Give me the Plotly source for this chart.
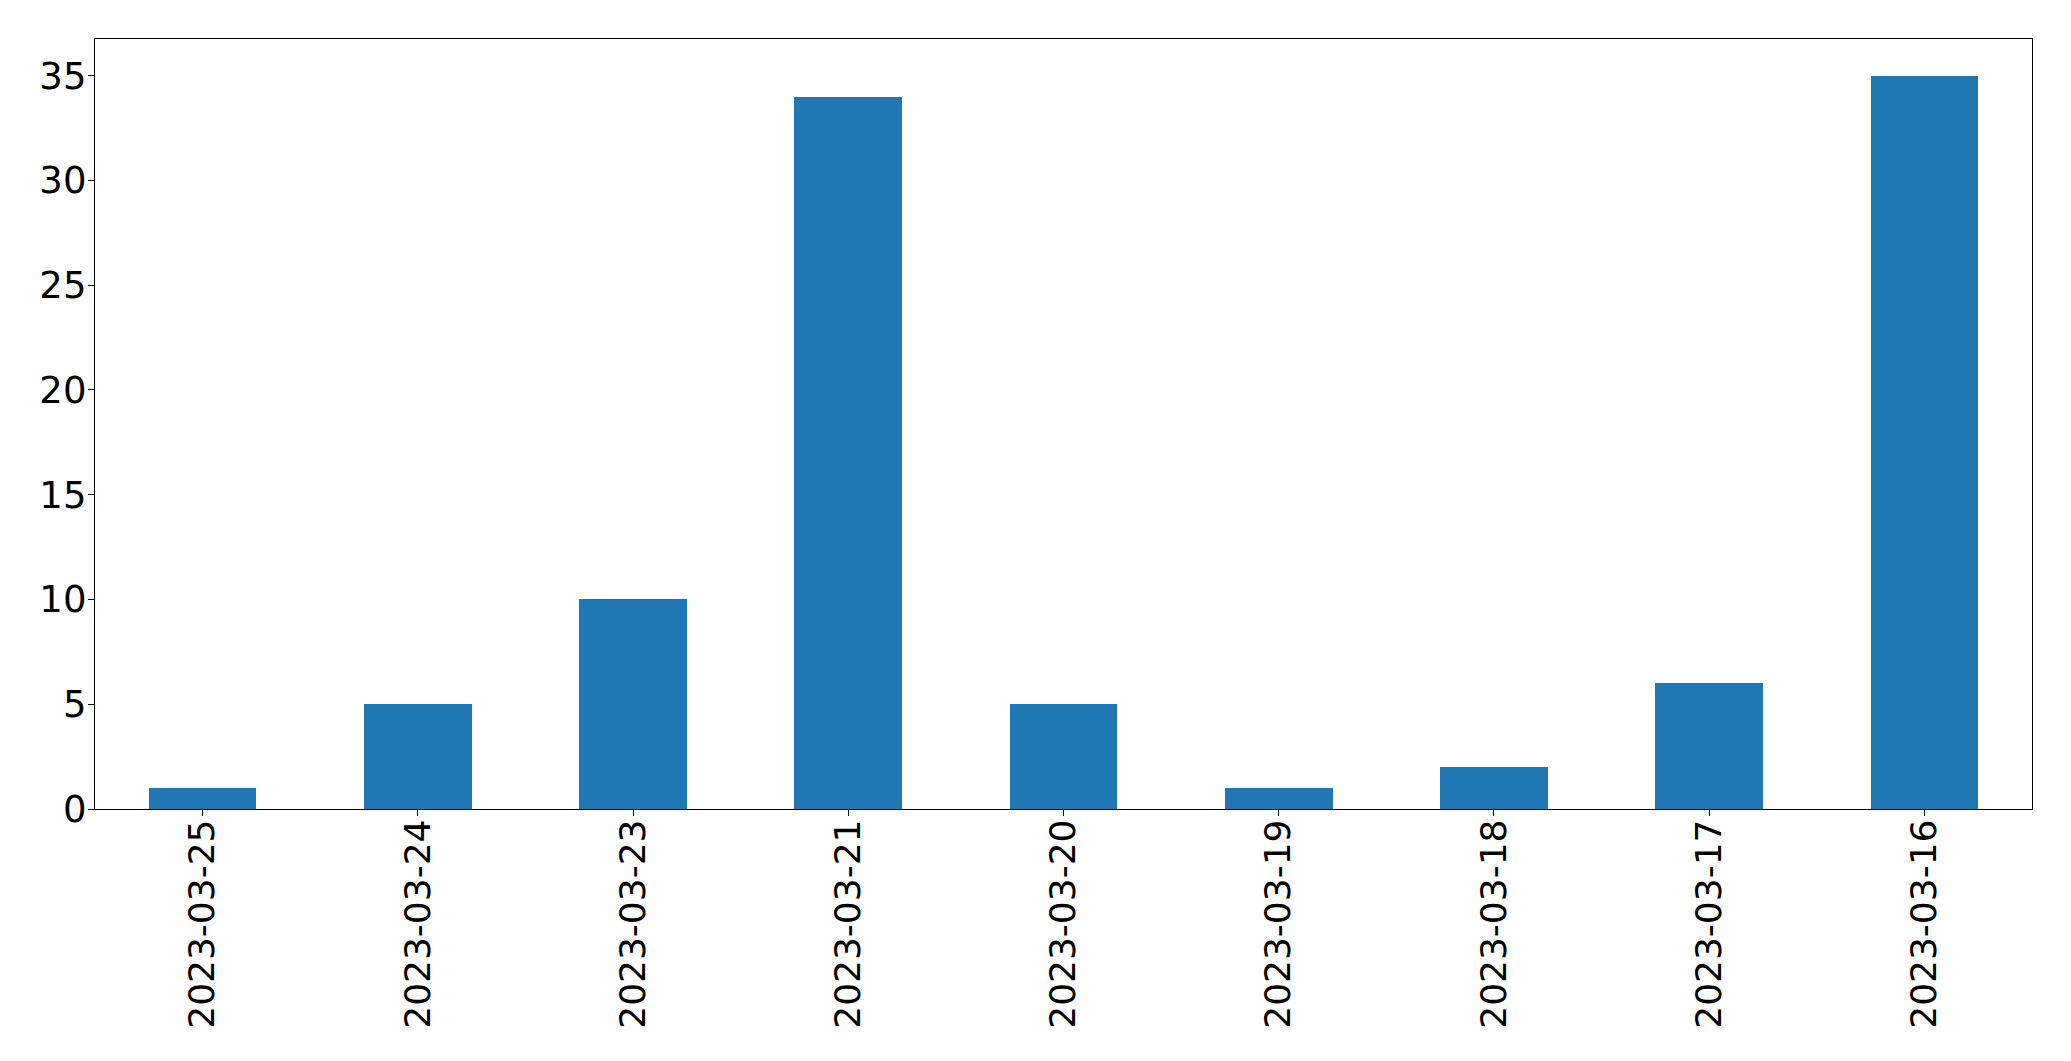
import plotly.graph_objects as go

dates = ["2023-03-25", "2023-03-24", "2023-03-23", "2023-03-21", "2023-03-20",
         "2023-03-19", "2023-03-18", "2023-03-17", "2023-03-16"]
counts = [1, 5, 10, 34, 5, 1, 2, 6, 35]
y_ticks = [0, 5, 10, 15, 20, 25, 30, 35]

fig = go.Figure(go.Bar(x=dates, y=counts, width=0.5, marker=dict(color="#1f77b4", line=dict(width=0))))

fig.update_layout(
    width=2063, height=1053,
    margin=dict(l=87, r=39, t=31, b=252, pad=0),
    paper_bgcolor="white", plot_bgcolor="white",
    font=dict(family="DejaVu Sans", size=36, color="black"),
    showlegend=False,
    bargap=0,
)
fig.update_xaxes(
    type="category", range=[-0.5, 8.5], tickangle=-90,
    ticks="outside", ticklen=6, tickwidth=1.3, tickcolor="black",
    showline=True, linecolor="black", linewidth=1.3, mirror=True,
    showgrid=False, zeroline=False, tickfont=dict(size=36),
    ticklabelstandoff=-11,
)
fig.update_yaxes(
    range=[0, 36.75], tickvals=y_ticks, ticktext=[str(v) for v in y_ticks],
    ticks="outside", ticklen=6, tickwidth=1.3, tickcolor="black",
    showline=True, linecolor="black", linewidth=1.3, mirror=True,
    showgrid=False, zeroline=False, tickfont=dict(size=37),
    ticklabelstandoff=-6,
)

fig.write_html("out.html")
